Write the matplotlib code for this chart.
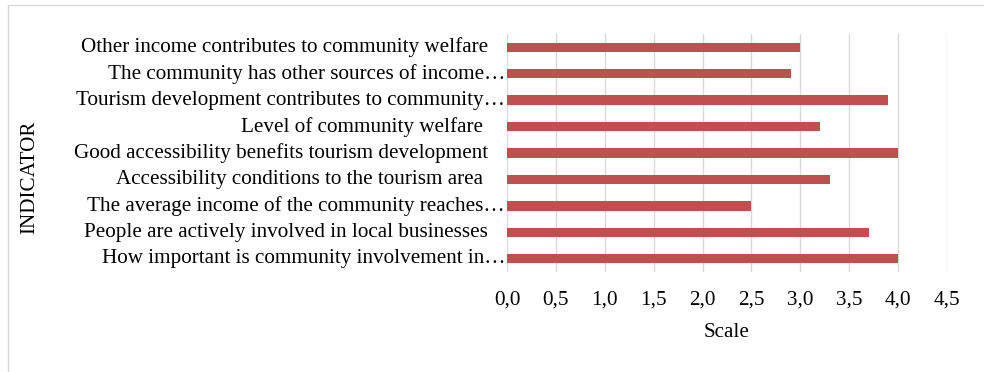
import matplotlib
matplotlib.use("Agg")
import matplotlib.pyplot as plt
from matplotlib.patches import Rectangle
from matplotlib.transforms import offset_copy

categories = [
    "Other income contributes to community welfare",
    "The community has other sources of income…",
    "Tourism development contributes to community…",
    "Level of community welfare ",
    "Good accessibility benefits tourism development",
    "Accessibility conditions to the tourism area ",
    "The average income of the community reaches…",
    "People are actively involved in local businesses",
    "How important is community involvement in…",
]
values = [3.0, 2.9, 3.9, 3.2, 4.0, 3.3, 2.5, 3.7, 4.0]
xticks = [0.0, 0.5, 1.0, 1.5, 2.0, 2.5, 3.0, 3.5, 4.0, 4.5]
xtick_labels = ["0,0", "0,5", "1,0", "1,5", "2,0", "2,5", "3,0", "3,5", "4,0", "4,5"]

plt.rcParams['font.family'] = ['Liberation Serif', 'DejaVu Serif']
FS = 15.25

W, H = 984, 372
fig = plt.figure(figsize=(W / 100, H / 100), dpi=100)

# outer light border (top and left visible)
fig.patches.append(Rectangle((8 / W, -0.1), 1.2, 1 - 5 / H + 0.1, transform=fig.transFigure,
                             fill=False, edgecolor="#D9D9D9", linewidth=1.0))

ax = fig.add_axes([507 / W, 1 - 272 / H, 440 / W, 238 / H])
ypos = list(range(len(categories)))
ax.barh(ypos, values, height=0.35, color="#C0504D", zorder=3)
ax.set_ylim(len(categories) - 0.5, -0.5)
ax.set_xlim(0, 4.5)

ax.set_xticks(xticks)
ax.set_xticklabels(xtick_labels, fontsize=FS)
ax.tick_params(axis='x', length=0, pad=13)
ax.set_yticks([])
ax.grid(axis='x', color="#D9D9D9", linewidth=1.0, zorder=0)
for s in ax.spines.values():
    s.set_visible(False)

trans_base = ax.get_yaxis_transform()
for y, lab in zip(ypos, categories):
    pad = 2 if lab.endswith("…") else 19
    tr = offset_copy(trans_base, fig=fig, x=-pad, y=0, units='dots')
    ax.text(0, y, lab, transform=tr, ha='right', va='center', fontsize=FS)

ax.set_xlabel("Scale", fontsize=FS, labelpad=10)
fig.text(30 / W, 1 - 177 / H, "INDICATOR", rotation=90, ha='center', va='center', fontsize=FS)

fig.savefig("out.png", dpi=100, facecolor="white")
